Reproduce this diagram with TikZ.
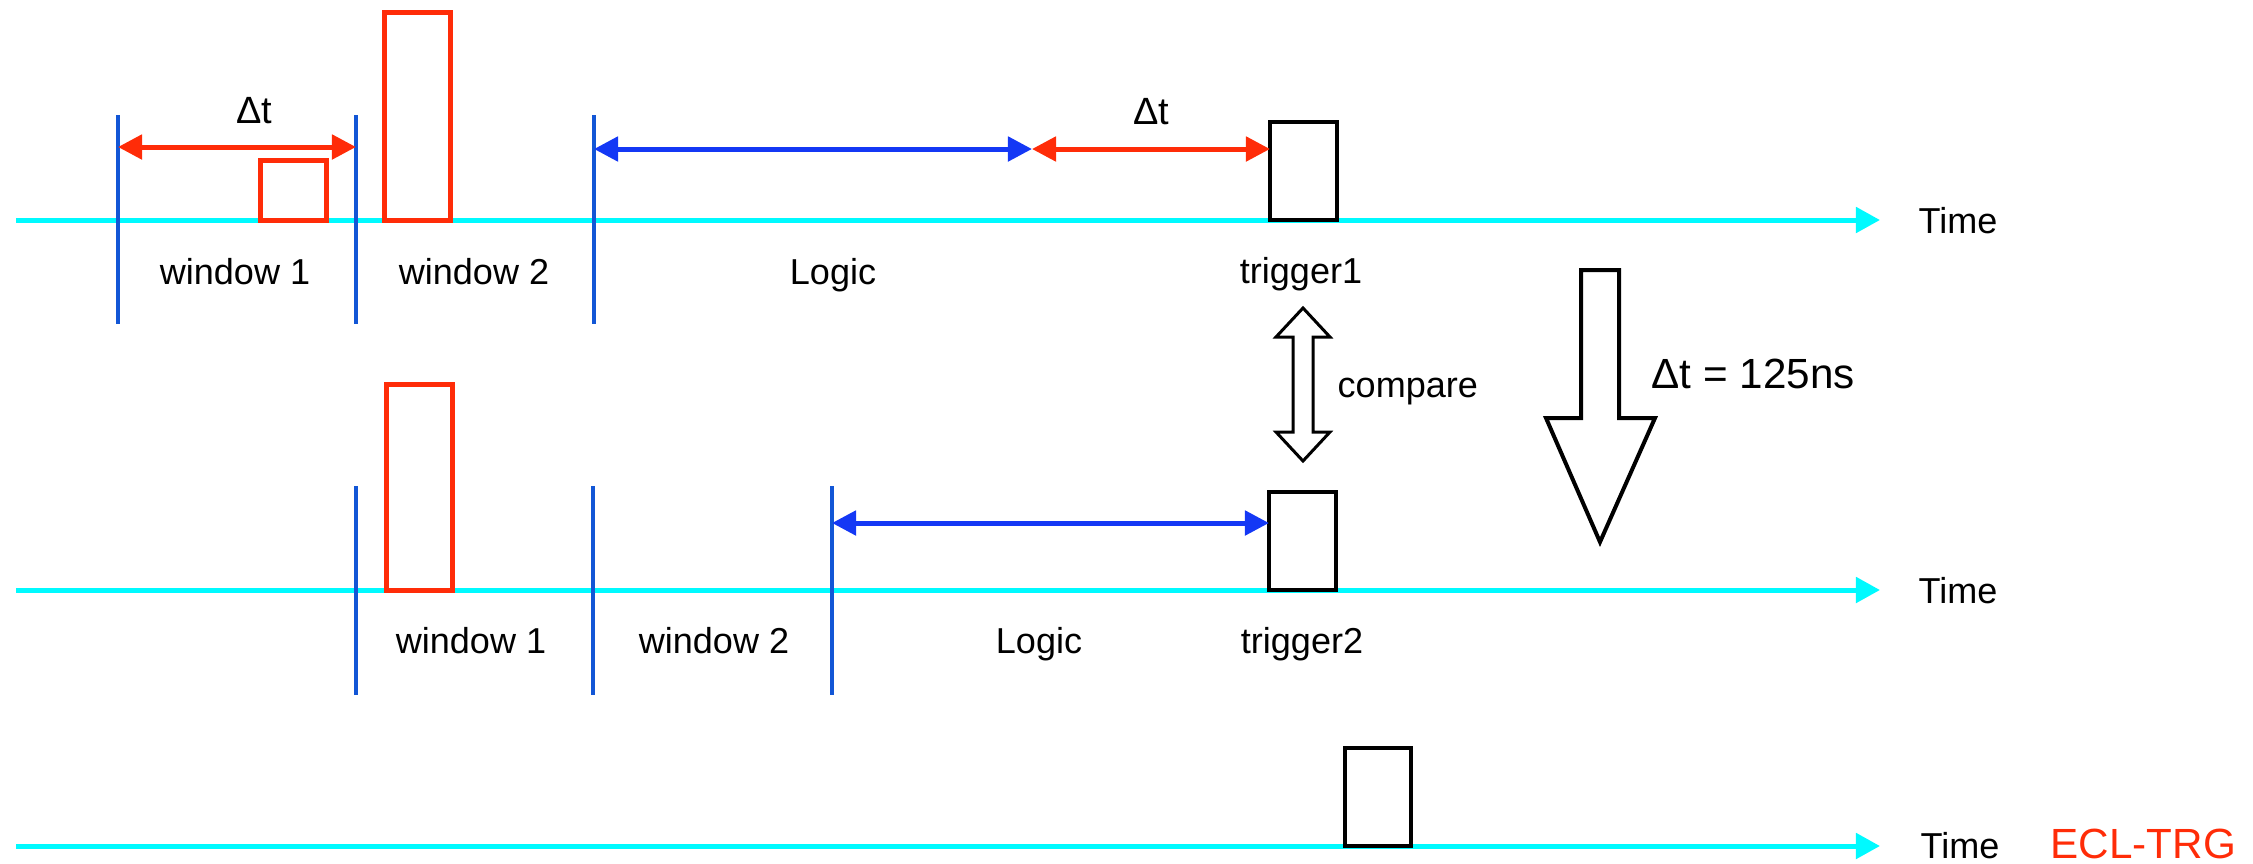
\documentclass[tikz,border=0pt]{standalone}
\usepackage{fontspec}
\setmainfont{Liberation Sans}
\usetikzlibrary{arrows.meta}
\definecolor{axiscyan}{RGB}{0,250,255}
\definecolor{markblue}{RGB}{18,86,214}
\definecolor{spanblue}{RGB}{20,56,245}
\definecolor{sigred}{RGB}{255,44,8}
\begin{document}
\begin{tikzpicture}[x=0.01cm,y=-0.01cm,
  axis/.style={draw=axiscyan,line width=0.05cm,-{Triangle[length=0.24cm,width=0.25cm]}},
  marker/.style={draw=markblue,line width=0.045cm},
  span/.style={line width=0.05cm,{Triangle[length=0.24cm,width=0.24cm]}-{Triangle[length=0.24cm,width=0.24cm]}},
  pulse/.style={draw=sigred,line width=0.05cm,inner sep=0,outer sep=0,anchor=south west,minimum width=0.66cm},
  trigbox/.style={draw=black,line width=0.045cm,inner sep=0,outer sep=0,anchor=south west,minimum width=0.67cm,minimum height=0.98cm},
  lbl/.style={inner sep=0,font=\fontsize{10.25pt}{12pt}\selectfont,anchor=base},
  lblw/.style={lbl,anchor=base west},
  dlbl/.style={inner sep=0,font=\fontsize{10.8pt}{13pt}\selectfont,anchor=base},
  bigarrow/.style={draw=black,fill=white,line width=0.04cm,line join=miter},
  cmparrow/.style={draw=black,fill=white,line width=0.03cm,line join=miter}
]
\useasboundingbox (0,0) rectangle (2253,863);

% time axes
\coordinate (ax1s) at (16,220);  \coordinate (ax1e) at (1880,220);
\coordinate (ax2s) at (16,590);  \coordinate (ax2e) at (1880,590);
\coordinate (ax3s) at (16,846);  \coordinate (ax3e) at (1880,846);
\draw[axis] (ax1s) -- (ax1e);
\draw[axis] (ax2s) -- (ax2e);
\draw[axis] (ax3s) -- (ax3e);
\node[lblw] (time1) at (1918,233) {Time};
\node[lblw] (time2) at (1918,603) {Time};
\node[lblw] (time3) at (1920,858) {Time};
\node[lblw,text=sigred,font=\fontsize{12pt}{14pt}\selectfont] (ecl) at (2050,858) {ECL-TRG};

% ---- first trigger cycle ----
\coordinate (a1t) at (118,115); \coordinate (a1b) at (118,324);
\coordinate (a2t) at (356,115); \coordinate (a2b) at (356,324);
\coordinate (a3t) at (594,115); \coordinate (a3b) at (594,324);
\draw[marker] (a1t) -- (a1b);
\draw[marker] (a2t) -- (a2b);
\draw[marker] (a3t) -- (a3b);

\node[pulse,minimum height=0.59cm] (hitA) at (260,220) {};
\node[pulse,minimum height=2.07cm] (hitB) at (384,220) {};
\node[trigbox] (trig1) at (1270,220) {};

\coordinate (dA1) at (118,147); \coordinate (dA2) at (356,147);
\draw[span,sigred] (dA1) -- (dA2);
\node[dlbl] (dtA) at (254,123) {Δt};

\coordinate (lg1) at (594,149); \coordinate (lg2) at (1032,149);
\coordinate (lg3) at (1270,149);
\draw[span,spanblue] (lg1) -- (lg2);
\draw[span,sigred] (lg2) -- (lg3);
\node[dlbl] (dtB) at (1151,124) {Δt};

\node[lbl] (w1a) at (235,284) {window 1};
\node[lbl] (w2a) at (474,284) {window 2};
\node[lbl] (lga) at (833,284) {Logic};
\node[lbl] (t1l) at (1301,283) {trigger1};

% ---- second trigger cycle ----
\coordinate (b1t) at (356,486); \coordinate (b1b) at (356,695);
\coordinate (b2t) at (593,486); \coordinate (b2b) at (593,695);
\coordinate (b3t) at (832,486); \coordinate (b3b) at (832,695);
\draw[marker] (b1t) -- (b1b);
\draw[marker] (b2t) -- (b2b);
\draw[marker] (b3t) -- (b3b);

\node[pulse,minimum height=2.05cm] (hitC) at (386,590) {};
\node[trigbox] (trig2) at (1269,590) {};

\coordinate (lb1) at (832,523); \coordinate (lb2) at (1269,523);
\draw[span,spanblue] (lb1) -- (lb2);

\node[lbl] (w1b) at (471,653) {window 1};
\node[lbl] (w2b) at (714,653) {window 2};
\node[lbl] (lgb) at (1039,653) {Logic};
\node[lbl] (t2l) at (1302,653) {trigger2};

% ---- output trigger ----
\node[trigbox,minimum width=0.66cm] (trig3) at (1345,846) {};

% compare arrow between the two triggers
\draw[cmparrow] (1303,308) -- (1330,337) -- (1313,337) -- (1313,432) -- (1330,432)
  -- (1303,461) -- (1276,432) -- (1293,432) -- (1293,337) -- (1276,337) -- cycle;
\node[lblw] (cmp) at (1337,397) {compare};

% shift arrow
\draw[bigarrow] (1581,270) -- (1619,270) -- (1619,418) -- (1655,418) -- (1600,542)
  -- (1546,418) -- (1581,418) -- cycle;
\node[lblw,font=\fontsize{12pt}{14pt}\selectfont] (shift) at (1651,388) {Δt = 125ns};
\end{tikzpicture}
\end{document}
